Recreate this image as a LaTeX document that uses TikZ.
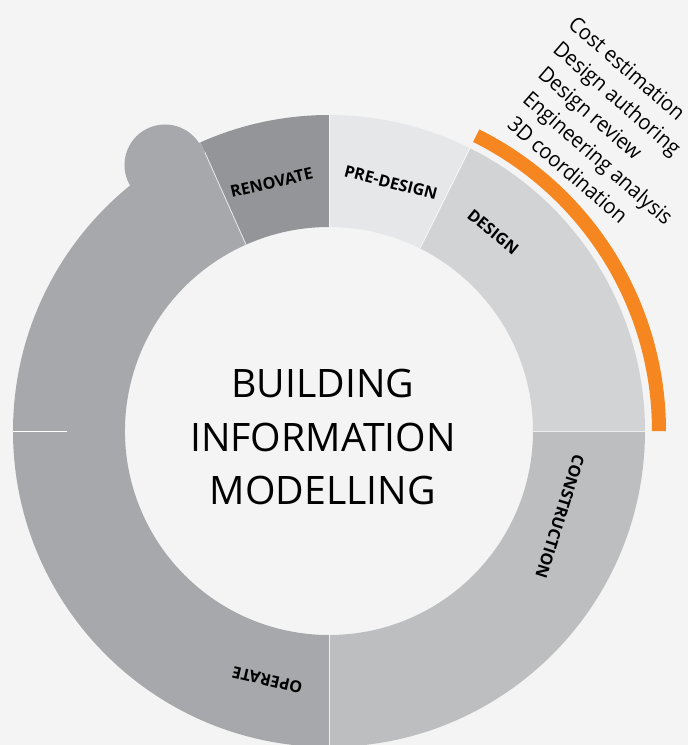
\documentclass[tikz,border=0pt]{standalone}
\usepackage{fontspec}
\setmainfont{Open Sans}
\newfontfamily\osn[FakeStretch=0.94]{Open Sans}
\definecolor{bgc}{HTML}{F4F4F4}
\definecolor{cdesign}{HTML}{D2D3D5}
\definecolor{cpre}{HTML}{E6E7E8}
\definecolor{creno}{HTML}{939598}
\definecolor{coper}{HTML}{A7A8AB}
\definecolor{ccons}{HTML}{BDBEC0}
\definecolor{corange}{HTML}{F6861F}
\newcommand\ringseg[3][]{\fill[#1] (#2:204) arc[start angle=#2,end angle=#3,radius=204] -- (#3:316) arc[start angle=#3,end angle=#2,radius=316] -- cycle;}
\begin{document}
\begin{tikzpicture}[x=1pt,y=1pt,
  sep/.style={draw=white, line width=0.8pt, opacity=0.75},
  lbl/.style={font=\fontsize{16.2}{18}\selectfont\bfseries, inner sep=0pt, text height=11.5pt, text depth=0pt, anchor=center},
  item/.style={font=\osn\fontsize{21.3}{29}\selectfont, inner sep=0pt, anchor=base west, rotate=-41},
  title/.style={font=\fontsize{39.2}{53.5}\selectfont, inner sep=0pt, anchor=base}]
\fill[bgc] (-329,-314) rectangle (359,431);
\useasboundingbox (-329,-314) rectangle (359,431);
% ring segments
\ringseg[cdesign]{0}{63.5}
\ringseg[cpre]{63.5}{90}
\ringseg[creno]{90}{114}
\ringseg[coper]{114}{270}
\fill[coper] (-164,266) circle[radius=40.5];
\ringseg[ccons]{270}{360}
% separators
\draw[sep] (0:204) -- (0:316);
\draw[sep] (63.5:204) -- (63.5:316);
\draw[sep] (90:204) -- (90:316);
\draw[sep] (114:204) -- (114:305);
\draw[sep] (270:204) -- (270:316);
\draw[draw=white, line width=0.8pt] (180:316) -- (180:262);
% orange arc
\fill[corange] (0:323) arc[start angle=0,end angle=63.5,radius=323] -- (63.5:337) arc[start angle=63.5,end angle=0,radius=337] -- cycle;
% labels
\node[lbl, rotate=13] (ren) at (103:255) {RENOVATE};
\node[lbl, rotate=-14.5] (pre) at (76:256) {PRE-DESIGN};
\node[lbl, rotate=-39] (des) at (50.5:258) {DESIGN};
\node[lbl, rotate=-107.5] (con) at (-20.4:246.5) {CONSTRUCTION};
\node[lbl, rotate=167] (ope) at (-103.9:256.6) {OPERATE};
% title
\node[title] (t1) at (-6,34) {BUILDING};
\node[title] (t2) at (-6,-20) {INFORMATION};
\node[title] (t3) at (-6,-73) {MODELLING};
% list
\node[item] (i1) at (238,405) {Cost estimation};
\node[item] (i2) at (222.8,379.9) {Design authoring};
\node[item] (i3) at (207.6,354.8) {Design review};
\node[item] (i4) at (192.4,329.7) {Engineering analysis};
\node[item] (i5) at (177.2,304.6) {3D coordination};
\end{tikzpicture}
\end{document}
